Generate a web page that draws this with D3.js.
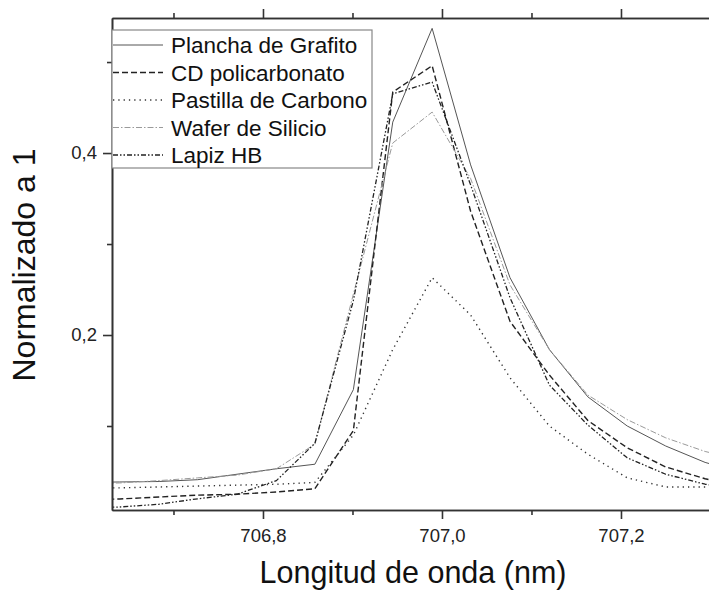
<!DOCTYPE html>
<html>
<head>
<meta charset="utf-8">
<script src="https://cdn.jsdelivr.net/npm/d3@7"></script>
<style>
html,body{margin:0;padding:0;background:#fff;}
svg{display:block;font-family:"Liberation Sans",Arial,sans-serif;}
</style>
</head>
<body>
<svg id="chart" width="709" height="590"></svg>
<script>
// wavelength samples (nm)
const wavelengths = [706.597, 706.640, 706.684, 706.727, 706.771, 706.815, 706.858, 706.901, 706.945, 706.989, 707.032, 707.076, 707.120, 707.163, 707.207, 707.250, 707.294, 707.337];
const seriesNames = ["Plancha de Grafito", "CD policarbonato", "Pastilla de Carbono", "Wafer de Silicio", "Lapiz HB"];
const planchaGrafito = [0.038, 0.0385, 0.039, 0.041, 0.047, 0.053, 0.058, 0.140, 0.434, 0.537, 0.387, 0.263, 0.184, 0.132, 0.100, 0.078, 0.060, 0.048];
const cdPolicarbonato = [0.019, 0.0198, 0.022, 0.024, 0.025, 0.0275, 0.031, 0.095, 0.467, 0.496, 0.336, 0.215, 0.156, 0.106, 0.076, 0.055, 0.042, 0.033];
const pastillaCarbono = [0.032, 0.032, 0.033, 0.034, 0.035, 0.036, 0.038, 0.090, 0.184, 0.263, 0.222, 0.153, 0.100, 0.069, 0.043, 0.033, 0.033, 0.033];
const waferSilicio = [0.037, 0.0374, 0.040, 0.043, 0.046, 0.053, 0.080, 0.245, 0.411, 0.445, 0.372, 0.255, 0.184, 0.134, 0.107, 0.087, 0.072, 0.062];
const lapizHB = [0.010, 0.011, 0.014, 0.020, 0.025, 0.040, 0.081, 0.238, 0.465, 0.478, 0.365, 0.241, 0.145, 0.101, 0.065, 0.047, 0.036, 0.030];
const xMajorTicks = [706.8, 707.0, 707.2];
const xMinorTicks = [706.7, 706.9, 707.1, 707.3];
const yMajorTicks = [0.2, 0.4];
const yMinorTicks = [0.1, 0.3, 0.5];

const styles = [
  {stroke:"#555", width:1, dash:null},
  {stroke:"#222", width:1.4, dash:"6,3"},
  {stroke:"#333", width:1.4, dash:"1.3,4"},
  {stroke:"#9a9a9a", width:1, dash:"6,2,1.5,2"},
  {stroke:"#222", width:1.3, dash:"5,2,1.5,2,1.5,2"}
];
const allValues = [planchaGrafito, cdPolicarbonato, pastillaCarbono, waferSilicio, lapizHB];

const L = 112, T = 18, B = 510, R = 712;
const svg = d3.select("#chart");
const x = d3.scaleLinear().domain([706.6313, 707.3017]).range([L, R]);
const y = d3.scaleLinear().domain([0.00769, 0.5484]).range([B, T]);
const fmt = d => d3.format(".1f")(d).replace(".", ",");

svg.append("defs").append("clipPath").attr("id","clip")
  .append("rect").attr("x",L).attr("y",T).attr("width",R-L).attr("height",B-T);

// lines
const line = d3.line().x((d,i)=>x(wavelengths[i])).y(d=>y(d));
const g = svg.append("g").attr("clip-path","url(#clip)");
allValues.forEach((vals,k)=>{
  g.append("path").datum(vals).attr("d",line).attr("fill","none")
   .attr("stroke",styles[k].stroke).attr("stroke-width",styles[k].width)
   .attr("stroke-dasharray",styles[k].dash).attr("stroke-linejoin","round");
});

// axes
function styleAxis(sel){
  sel.selectAll("path.domain").attr("stroke","#333").attr("stroke-width",1.6);
  sel.selectAll(".tick line").attr("stroke","#333").attr("stroke-width",1.6);
  sel.selectAll(".tick text").attr("fill","#222").style("font-size","18.5px").style("font-family","'Liberation Sans',Arial,sans-serif");
}
const xb = svg.append("g").attr("transform",`translate(0,${B})`)
  .call(d3.axisBottom(x).tickValues(xMajorTicks).tickSize(9).tickSizeOuter(0).tickPadding(10).tickFormat(fmt));
styleAxis(xb);
const xbm = svg.append("g").attr("transform",`translate(0,${B})`)
  .call(d3.axisBottom(x).tickValues(xMinorTicks).tickSize(5).tickSizeOuter(0).tickFormat(""));
styleAxis(xbm);
const xt = svg.append("g").attr("transform",`translate(0,${T})`)
  .call(d3.axisTop(x).tickValues(xMajorTicks).tickSize(9).tickSizeOuter(0).tickFormat(""));
styleAxis(xt);
const xtm = svg.append("g").attr("transform",`translate(0,${T})`)
  .call(d3.axisTop(x).tickValues(xMinorTicks).tickSize(5).tickSizeOuter(0).tickFormat(""));
styleAxis(xtm);
const yl = svg.append("g").attr("transform",`translate(${L},0)`)
  .call(d3.axisLeft(y).tickValues(yMajorTicks).tickSize(9).tickSizeOuter(0).tickPadding(6).tickFormat(fmt));
styleAxis(yl);
const ylm = svg.append("g").attr("transform",`translate(${L},0)`)
  .call(d3.axisLeft(y).tickValues(yMinorTicks).tickSize(5).tickSizeOuter(0).tickFormat(""));
styleAxis(ylm);

// titles
svg.append("text").attr("x",413).attr("y",583).attr("text-anchor","middle")
  .style("font-size","30.5px").attr("fill","#111").text("Longitud de onda (nm)");
svg.append("text").attr("transform","translate(35,265) rotate(-90)").attr("text-anchor","middle")
  .style("font-size","32px").attr("fill","#111").text("Normalizado a 1");

// legend
const lg = svg.append("g");
lg.append("rect").attr("x",L).attr("y",30).attr("width",260).attr("height",138)
  .attr("fill","#fff").attr("stroke","#888").attr("stroke-width",1.2);
seriesNames.forEach((name,k)=>{
  const cy = 45 + k*27.5;
  lg.append("line").attr("x1",L+1).attr("x2",163).attr("y1",cy).attr("y2",cy)
    .attr("stroke",styles[k].stroke).attr("stroke-width",styles[k].width)
    .attr("stroke-dasharray",styles[k].dash);
  lg.append("text").attr("x",171).attr("y",cy+8).style("font-size","22.5px").attr("fill","#111").text(name);
});
</script>
</body>
</html>
